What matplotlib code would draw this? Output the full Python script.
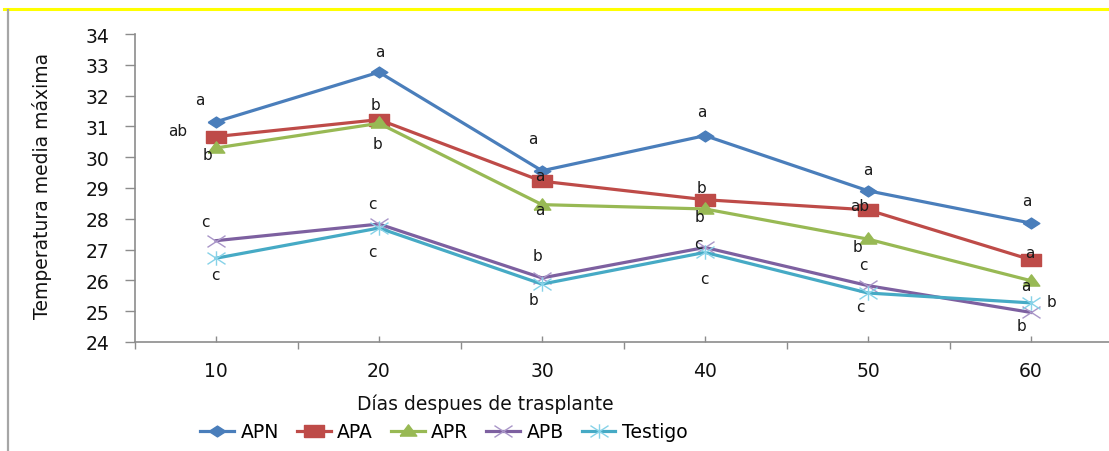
import matplotlib
matplotlib.use("Agg")
import matplotlib.pyplot as plt
from matplotlib.path import Path
from matplotlib.lines import Line2D
from matplotlib.ticker import FixedLocator

# --- data -------------------------------------------------------------
dias = [10, 20, 30, 40, 50, 60]
series_names = ["APN", "APA", "APR", "APB", "Testigo"]
apn = [31.15, 32.76, 29.56, 30.70, 28.91, 27.86]
apa = [30.67, 31.22, 29.22, 28.62, 28.29, 26.67]
apr = [30.30, 31.10, 28.46, 28.32, 27.34, 25.99]
apb = [27.29, 27.83, 26.08, 27.07, 25.83, 24.96]
testigo = [26.72, 27.70, 25.88, 26.91, 25.59, 25.27]

letras_apn = ["a", "a", "a", "a", "a", "a"]
letras_apa = ["ab", "b", "a", "b", "ab", "a"]
letras_apr = ["b", "b", "a", "b", "b", "a"]
letras_apb = ["c", "c", "b", "c", "c", "b"]
letras_testigo = ["c", "c", "b", "c", "c", "b"]

y_ticks = [24, 25, 26, 27, 28, 29, 30, 31, 32, 33, 34]

# --- styling ----------------------------------------------------------
FONT = "DejaVu Sans"
plt.rcParams["font.family"] = [FONT]

# wide (horizontally stretched) marker shapes
diamond = [(-1, 0), (0, 0.65), (1, 0), (0, -0.65), (-1, 0)]
rect = [(-1, -0.6), (1, -0.6), (1, 0.6), (-1, 0.6), (-1, -0.6)]
tri = [(-1, -0.55), (1, -0.55), (0, 0.8), (-1, -0.55)]
xmark = Path([(-1, -0.65), (1, 0.65), (-1, 0.65), (1, -0.65)],
             [Path.MOVETO, Path.LINETO, Path.MOVETO, Path.LINETO])
star = Path([(-1, -0.65), (1, 0.65), (-1, 0.65), (1, -0.65), (0, -0.8), (0, 0.8)],
            [Path.MOVETO, Path.LINETO, Path.MOVETO, Path.LINETO,
             Path.MOVETO, Path.LINETO])

styles = [
    dict(color="#4A7EBB", marker=diamond, ms=12, mfc="#4A7EBB", mec="#4A7EBB", mew=1),
    dict(color="#BE4B48", marker=rect, ms=14, mfc="#BE4B48", mec="#BE4B48", mew=1),
    dict(color="#98B954", marker=tri, ms=12, mfc="#98B954", mec="#98B954", mew=1),
    dict(color="#7D60A0", marker=xmark, ms=13, mfc="none", mec="#A996C8", mew=1.0),
    dict(color="#46AAC5", marker=star, ms=13, mfc="none", mec="#86D2E8", mew=1.0),
]

# label offsets (pixels) relative to each point
offsets = [
    [(-16, 22), (1, 21), (-9, 32), (-3, 24), (0, 21), (-4, 23)],
    [(-38, 6), (-3, 15), (-2, 6), (-3, 12), (-8, 4), (-1, 7)],
    [(-9, -7), (-2, -20), (-2, -5), (-6, -8), (-10, -7), (-5, -5)],
    [(-11, 19), (-7, 21), (-5, 22), (-7, 4), (-5, 21), (-9, -13)],
    [(-1, -16), (-7, -23), (-9, -15), (-1, -26), (-8, -13), (21, 1)],
]

W, H = 1109, 452
fig = plt.figure(figsize=(W / 100, H / 100), dpi=100)
fig.patch.set_facecolor("white")

ax = fig.add_axes([134.5 / W, 1 - 343 / H, (1112.5 - 134.5) / W, (343 - 35) / H])
ax.set_facecolor("white")

all_series = [apn, apa, apr, apb, testigo]
all_letters = [letras_apn, letras_apa, letras_apr, letras_apb, letras_testigo]
handles = []
for name, vals, st, lets, offs in zip(series_names, all_series, styles, all_letters, offsets):
    line, = ax.plot(dias, vals, lw=2.3, color=st["color"], marker=st["marker"],
                    ms=st["ms"], mfc=st["mfc"], mec=st["mec"], mew=st["mew"],
                    label=name, zorder=3, clip_on=False)
    handles.append(line)
    for x, y, t, (dx, dy) in zip(dias, vals, lets, offs):
        ax.annotate(t, (x, y), xytext=(dx, dy), textcoords="offset pixels",
                    ha="center", va="center", fontsize=11, color="#1a1a1a", zorder=4)

ax.set_xlim(5, 65)
ax.set_ylim(24, 34)
ax.set_yticks(y_ticks)
ax.set_yticklabels([str(v) for v in y_ticks])
ax.set_xticks(dias)
ax.set_xticklabels([str(d) for d in dias])
ax.xaxis.set_minor_locator(FixedLocator([5, 15, 25, 35, 45, 55, 65]))

for s in ("top", "right"):
    ax.spines[s].set_visible(False)
for s in ("left", "bottom"):
    ax.spines[s].set_color("#8C8C8C")
    ax.spines[s].set_linewidth(1.2)

ax.tick_params(axis="x", which="major", direction="in", length=4, width=1,
               color="#8C8C8C", pad=14, labelsize=13.5, labelcolor="#111111")
ax.tick_params(axis="x", which="minor", direction="out", length=5, width=1,
               color="#8C8C8C")
ax.tick_params(axis="y", which="major", direction="out", length=7, width=1,
               color="#8C8C8C", pad=11, labelsize=13.5, labelcolor="#111111")

fig.text(42 / W, 1 - 186 / H, "Temperatura media máxima", rotation=90,
         ha="center", va="center", fontsize=13.5, color="#111111")
fig.text(485 / W, 1 - 404 / H, "Días despues de trasplante",
         ha="center", va="center", fontsize=13.5, color="#111111")

fig.legend(handles=handles, labels=series_names, loc="center",
           bbox_to_anchor=(444 / W, 1 - 433 / H), ncol=5, frameon=False,
           fontsize=13.5, handlelength=1.8, handletextpad=0.35,
           columnspacing=0.95, borderaxespad=0, borderpad=0)

# outer frame fragments: yellow rule at top and grey rule at left
fig.add_artist(Line2D([4 / W, 1], [1 - 10 / H, 1 - 10 / H], color="#FFFF00",
                      lw=2.2, transform=fig.transFigure))
fig.add_artist(Line2D([8 / W, 8 / W], [1 - 11 / H, 0], color="#A6A6A6",
                      lw=1.6, transform=fig.transFigure))

fig.savefig("out.png", dpi=100, facecolor="white")
